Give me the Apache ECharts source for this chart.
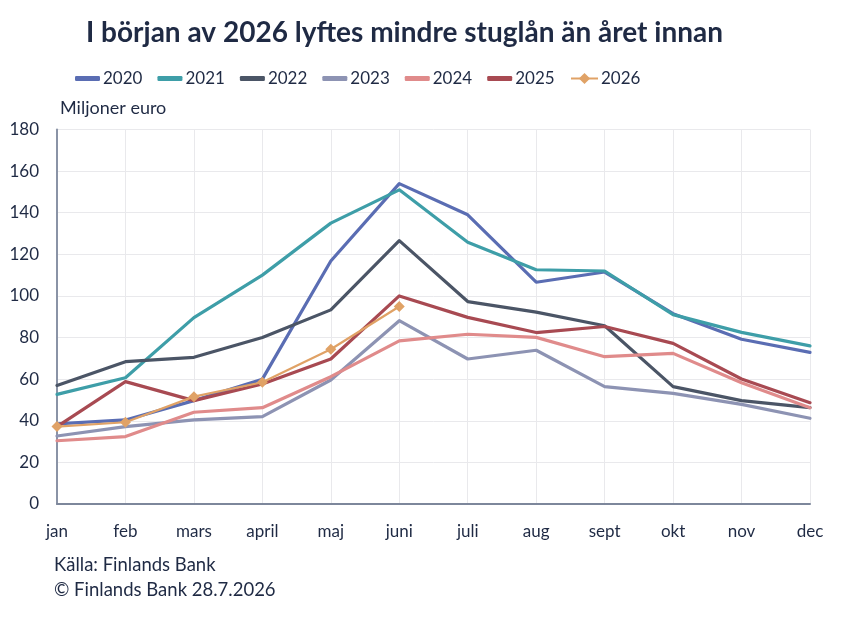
<!DOCTYPE html>
<html>
<head>
<meta charset="utf-8">
<script src="https://cdn.jsdelivr.net/npm/echarts@6/dist/echarts.min.js"></script>
<style>
html,body{margin:0;padding:0;background:#fff;}
#c{width:856px;height:621px;}
</style>
</head>
<body>
<div id="c"></div>
<script>
const months = ['jan','feb','mars','april','maj','juni','juli','aug','sept','okt','nov','dec'];
const yTicks = [0,20,40,60,80,100,120,140,160,180];
const y2020 = [38.5,40.4,49.7,60,116.8,154,139,106.6,111.5,91.5,79.2,72.9];
const y2021 = [52.7,60.7,89.6,110,135,151,125.8,112.6,112,91,82.5,76];
const y2022 = [57,68.4,70.5,80,93.3,126.6,97.3,92.2,85.7,56.4,49.7,46.3];
const y2023 = [32.7,37.2,40.4,42,59.6,88.1,69.7,73.9,56.4,53.2,47.9,41.2];
const y2024 = [30.4,32.4,44.1,46.3,61.2,78.4,81.6,80.1,70.8,72.4,58.3,46.3];
const y2025 = [37.2,58.8,49.7,57.7,69.7,100,89.7,82.4,85.3,77.2,60.1,48.7];
const y2026 = [37.2,39.3,51.6,58.5,74.4,94.9];

const FONT = 'Lato';
const TXT = '#1f2a44';
const chart = echarts.init(document.getElementById('c'), null, {renderer:'canvas'});
function ln(name, data, color){
  return {name, type:'line', data, symbol:'none', smooth:false,
    lineStyle:{width:3.2, color, cap:'round', join:'round'}, itemStyle:{color}, z:2};
}
const legText = {fontFamily:FONT, fontSize:17, color:TXT, padding:[0,0,0,-2]};
chart.setOption({
  animation:false,
  backgroundColor:'#fff',
  textStyle:{fontFamily:FONT},
  title:{
    text:'I början av 2026 lyftes mindre stuglån än året innan',
    left:81, top:14,
    textStyle:{fontFamily:FONT, fontWeight:'bold', fontSize:28, color:TXT}
  },
  legend:[{
    left:70, top:65, itemWidth:25, itemHeight:5, itemGap:15, icon:'roundRect',
    textStyle:legText,
    data:['2020','2021','2022','2023','2024','2025']
  },{
    left:565, top:65, itemWidth:27, itemHeight:14,
    textStyle:legText,
    data:['2026']
  }],
  graphic:[
    {type:'text', left:60, top:99, style:{text:'Miljoner euro', font:'18px '+FONT, fill:TXT}},
    {type:'text', left:54, top:556, style:{text:'Källa: Finlands Bank', font:'18.5px '+FONT, fill:TXT}},
    {type:'text', left:54, top:581, style:{text:'© Finlands Bank 28.7.2026', font:'18.5px '+FONT, fill:TXT}}
  ],
  grid:{left:57, right:46, top:129.5, bottom:117, containLabel:false},
  xAxis:{
    type:'category', data:months, boundaryGap:false,
    axisLine:{lineStyle:{color:'#7d879b', width:2}},
    axisTick:{show:false},
    axisLabel:{fontFamily:FONT, fontSize:17, color:TXT, margin:19},
    splitLine:{show:true, lineStyle:{color:'#e9e9ec', width:1}}
  },
  yAxis:{
    type:'value', min:0, max:180, interval:20,
    axisLine:{show:true, lineStyle:{color:'#8a93a6', width:2}},
    axisTick:{show:false},
    axisLabel:{fontFamily:FONT, fontSize:17, color:TXT, margin:18},
    splitLine:{show:true, lineStyle:{color:'#e9e9ec', width:1}}
  },
  series:[
    ln('2020', y2020, '#5a6db3'),
    ln('2021', y2021, '#3e9ea8'),
    ln('2022', y2022, '#4b5566'),
    ln('2023', y2023, '#8d93b3'),
    ln('2024', y2024, '#e08b8b'),
    ln('2025', y2025, '#a84a52'),
    {name:'2026', type:'line', data:y2026, symbol:'diamond', symbolSize:11, showSymbol:true,
     lineStyle:{width:2.2, color:'#e0a266'}, itemStyle:{color:'#e0a266'}, z:3}
  ]
});
</script>
</body>
</html>
